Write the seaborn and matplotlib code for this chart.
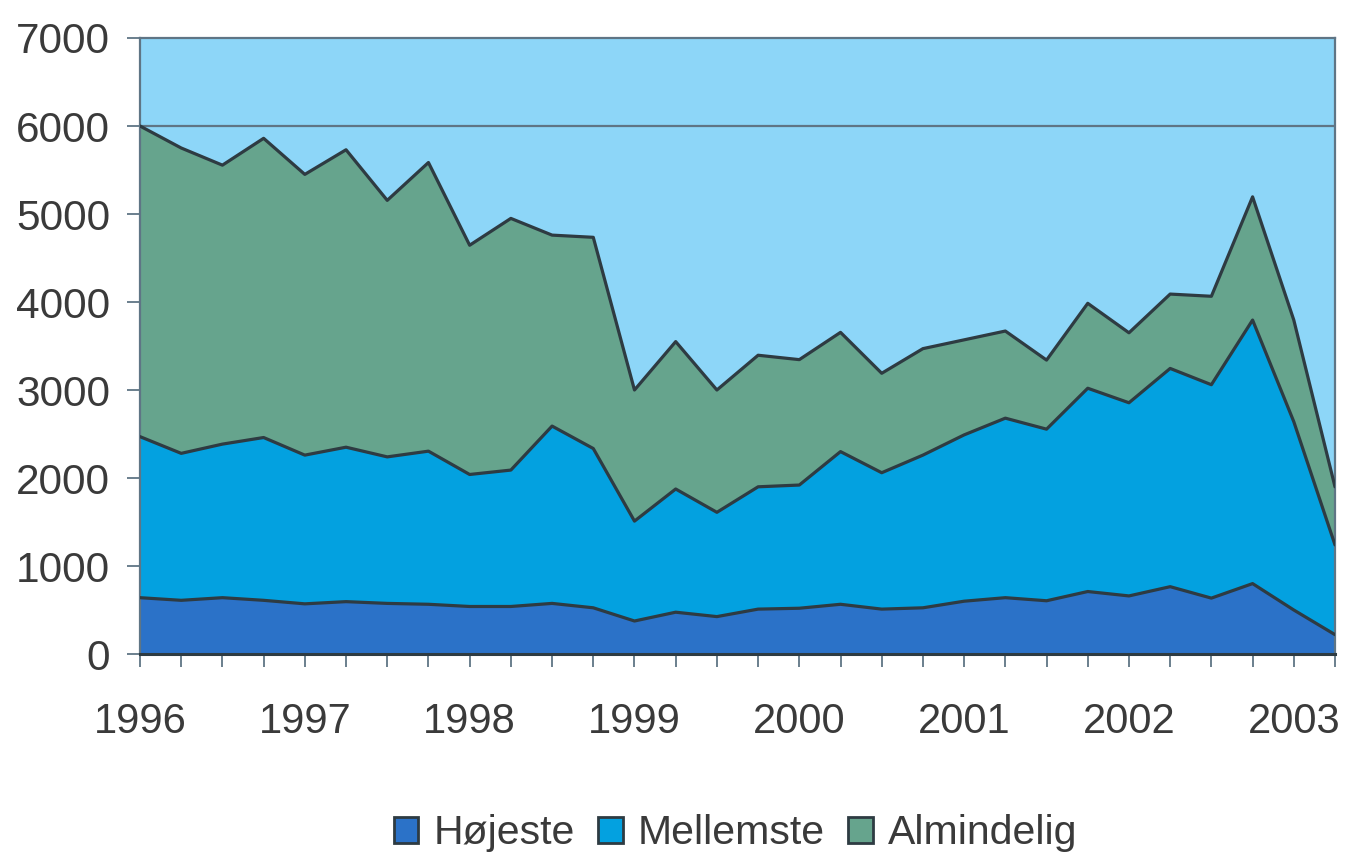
#!/usr/bin/env python3
# Stacked area chart: quarterly counts 1996-2003 by level (Højeste / Mellemste / Almindelig)

import numpy as np
import pandas as pd
import matplotlib.pyplot as plt
import seaborn as sns
from matplotlib.patches import Patch

# ============================================================================
# DATA (one value per quarter 1996Q1 .. 2003Q2)
# ============================================================================
years = list(range(1996, 2004))
quarters = [f"{y}Q{q}" for y in years for q in range(1, 5)][:30]

hojeste = [640, 610, 640, 610, 570, 595, 575, 565, 540, 540,
           575, 525, 375, 475, 425, 510, 520, 565, 510, 525,
           600, 640, 605, 710, 660, 765, 635, 800, 500, 220]
mellemste = [1830, 1670, 1745, 1850, 1690, 1755, 1665, 1740, 1500, 1550,
             2015, 1810, 1135, 1400, 1185, 1390, 1400, 1735, 1550, 1735,
             1890, 2040, 1950, 2310, 2195, 2480, 2425, 2995, 2140, 1020]
almindelig = [3530, 3470, 3170, 3400, 3190, 3380, 2915, 3280, 2605, 2860,
              2170, 2400, 1490, 1675, 1390, 1495, 1425, 1355, 1130, 1210,
              1080, 990, 785, 965, 795, 845, 1005, 1400, 1155, 660]

series_names = ["Højeste", "Mellemste", "Almindelig"]

# ============================================================================
# THEME SETTINGS
# ============================================================================
sns.set_theme(style="white")
plt.rcParams['font.family'] = ['Liberation Sans', 'DejaVu Sans']

colors = {
    'Højeste': '#2B72C8',
    'Mellemste': '#03A1E0',
    'Almindelig': '#66A48D',
    'sky': '#8DD6F8',
    'edge': '#2E3B42',
    'text': '#3A3A3A',
    'frame': '#5F7585',
}

df = pd.DataFrame({'quarter': quarters, 'Højeste': hojeste,
                   'Mellemste': mellemste, 'Almindelig': almindelig})
df['x'] = np.arange(len(df))
cum = df[series_names].cumsum(axis=1)
long = cum.assign(x=df['x']).melt(id_vars='x', var_name='level', value_name='top')

# ============================================================================
# CREATE PLOT
# ============================================================================
fig = plt.figure(figsize=(13.45, 8.6), dpi=100)
ax = fig.add_axes([140 / 1345, 1 - 654 / 860, 1195 / 1345, 616 / 860])
ax.set_facecolor(colors['sky'])

ax.axhline(6000, color=colors['frame'], lw=1.6, zorder=1)

lower = np.zeros(len(df))
for name in series_names:
    ax.fill_between(df['x'], lower, cum[name], color=colors[name], lw=0, zorder=2)
    lower = cum[name].values

sns.lineplot(data=long, x='x', y='top', hue='level',
             palette=[colors['edge']] * 3, lw=2.3, legend=False,
             ax=ax, zorder=3)

ax.set_xlim(0, len(df) - 1)
ax.set_ylim(0, 7000)
ax.set_yticks(range(0, 7001, 1000))
ax.set_xticks(df['x'])
ax.set_xticklabels([q[:4] if q.endswith('Q1') else '' for q in quarters])
ax.set_xlabel('')
ax.set_ylabel('')

ax.tick_params(axis='y', length=9.5, width=1.3, color=colors['frame'],
               direction='out', pad=12, labelsize=30.5, labelcolor=colors['text'], left=True)
ax.tick_params(axis='x', length=9.5, width=1.3, color=colors['frame'],
               direction='out', pad=25, labelsize=30, labelcolor=colors['text'], bottom=True)

for side in ['top', 'right', 'left']:
    ax.spines[side].set_color(colors['frame'])
    ax.spines[side].set_linewidth(1.6)
ax.spines['bottom'].set_color(colors['edge'])
ax.spines['bottom'].set_linewidth(2.2)

handles = [Patch(facecolor=colors[n], edgecolor=colors['edge'], lw=2, label=n)
           for n in series_names]
fig.legend(handles=handles, loc='center', bbox_to_anchor=(0.547, 0.031), ncol=3,
           frameon=False, fontsize=29.5, handlelength=0.6, handleheight=0.6,
           handletextpad=0.37, columnspacing=0.57, labelcolor=colors['text'])

# ============================================================================
# SAVE OUTPUT
# ============================================================================
plt.savefig("out.png", dpi=100)
print("Plot saved to: out.png")
plt.close()
